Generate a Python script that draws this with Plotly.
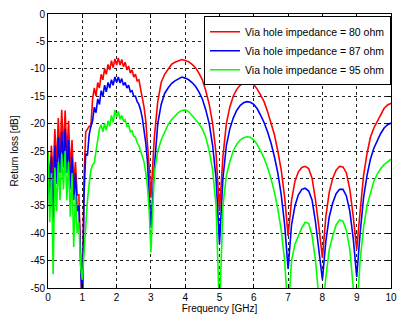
import plotly.graph_objects as go

# Frequency grid [GHz]
freq_a = [round(i * 0.05, 3) for i in range(21)]             # 0 .. 1.0
freq_b = [round(1.0 + i * 0.05, 3) for i in range(1, 41)]    # 1.05 .. 3.0
freq_c = [round(3.0 + i * 0.1, 3) for i in range(1, 71)]     # 3.1 .. 10.0
freq_ghz = freq_a + freq_b + freq_c

# Return loss [dB], 80 ohm
rl_80 = [
    -25, -31, -24, -30, -21, -28, -19, -26, -17.5, -25,
    -17.6, -26, -19.5, -29, -23, -31, -27, -33, -33, -42, -55,
    -30, -21.5, -21, -20.5, -20.5, -15.5, -13.5, -15, -12.5, -13.5,
    -11, -12, -10, -11, -9.2, -10.2, -8.5, -9.8, -8.2, -9.3,
    -8, -9.3, -8.3, -9.6, -8.8, -10.2, -9.5, -10.8, -10.2, -11.5,
    -11, -12.2, -12, -13.5, -15, -17, -19.5, -23, -28, -33.5,
    -22.5, -16, -12.5, -11, -10, -9.2, -8.8, -8.5, -8.3, -8.5,
    -8.7, -9.2, -9.8, -10.8, -12, -14, -16.5, -20, -25.5, -36,
    -26, -20, -17, -15, -13.8, -13, -12.6, -12.4, -12.5, -12.9,
    -13.7, -14.8, -16, -17.8, -19.8, -22, -25, -28.5, -33.5, -40.5,
    -34, -30.5, -28.8, -28, -27.8, -28.2, -30, -34, -39, -44.5,
    -37, -32.5, -30, -28.5, -27.8, -27.9, -29, -32, -37, -43,
    -36, -29.5, -25.5, -22.5, -20.8, -19.5, -18.2, -17.2, -16.6, -16.3,
]

# Return loss [dB], 87 ohm
rl_87 = [
    -27, -35, -26, -38, -24, -31, -22.5, -29, -21.5, -28,
    -21, -29, -23, -32, -26, -34, -29, -36, -35, -45, -55,
    -33, -25.5, -25.8, -22, -20.5, -19.5, -17, -18, -15.5, -16.5,
    -14, -15, -13, -14.2, -12.5, -13.5, -12, -13, -11.5, -12.5,
    -11.5, -12.6, -11.8, -13, -12.5, -13.5, -13, -14.2, -14, -15,
    -15, -16, -16.5, -17.5, -19, -21, -23.5, -27, -32, -39,
    -28, -20, -16.5, -14.5, -13.5, -12.7, -12.2, -11.8, -11.5, -11.7,
    -12, -12.5, -13.2, -14.2, -15.5, -17.5, -20, -24, -30, -42,
    -30, -24, -21, -19, -17.6, -16.7, -16.2, -16, -16.1, -16.5,
    -17.3, -18.5, -19.8, -21.5, -23.5, -26, -29, -33, -38.5, -46.5,
    -38.5, -35, -33, -32, -31.8, -32.3, -34, -38, -43, -48.5,
    -41.5, -37, -34.5, -32.8, -32, -32, -33.2, -36, -41, -48,
    -40, -33.5, -29.5, -26.5, -24.5, -23, -21.8, -20.8, -20.2, -19.9,
]

# Return loss [dB], 95 ohm
rl_95 = [
    -25, -38, -29, -47.5, -28, -36, -27, -34, -25.5, -32,
    -25, -34, -27, -37, -29, -42.5, -33, -40, -38, -46, -48.5,
    -44, -38, -34, -31, -28.5, -27.5, -27.2, -25, -22.5, -21,
    -20.2, -21.5, -20, -21.2, -19.5, -20.5, -18.5, -19.8, -17.5, -18.8,
    -17.8, -19.2, -18.5, -19.5, -19.3, -20.5, -20.3, -21.5, -21.3, -22.3,
    -22.5, -23.5, -24, -25, -25.8, -27, -29, -31.5, -36, -43.5,
    -29, -25, -23, -21.5, -20.2, -19.3, -18.7, -18, -17.6, -17.5,
    -17.8, -18.5, -19.2, -20, -21, -22.5, -25, -28.5, -35, -55,
    -35, -29.5, -27, -25, -23.8, -23, -22.6, -22.4, -22.5, -23,
    -23.8, -25, -26.3, -28, -30, -32.5, -35.5, -39.5, -45, -55,
    -45, -42, -40.5, -39, -38, -38.2, -40.5, -45, -52, -55,
    -48, -43, -40.5, -38.5, -37.6, -37.8, -39.5, -43, -50, -55,
    -45, -39, -35, -32.5, -30.5, -29.2, -28.2, -27.5, -27, -26.5,
]

series_names = ["Via hole impedance = 80 ohm",
                "Via hole impedance = 87 ohm",
                "Via hole impedance = 95 ohm"]
series_colors = ["#ff0000", "#0000ff", "#00ff00"]

x_tick_vals = [0, 1, 2, 3, 4, 5, 6, 7, 8, 9, 10]
x_tick_text = ["0", "1", "2", "3", "4", "5", "6", "7", "8", "9", "10"]
y_tick_vals = [0, -5, -10, -15, -20, -25, -30, -35, -40, -45, -50]
y_tick_text = ["0", "-5", "-10", "-15", "-20", "-25", "-30", "-35", "-40", "-45", "-50"]

fig = go.Figure()
for name, vals, col in zip(series_names, [rl_80, rl_87, rl_95], series_colors):
    fig.add_trace(go.Scatter(x=freq_ghz, y=vals, mode="lines", name=name,
                             line=dict(color=col, width=1.6)))

font = "Liberation Sans, Arial, sans-serif"
axis_common = dict(
    showline=True, linecolor="black", linewidth=1, mirror="allticks",
    ticks="inside", ticklen=4, tickcolor="black",
    showgrid=True, gridcolor="#222222", griddash="dot", gridwidth=1,
    zeroline=False, tickfont=dict(family=font, size=10, color="black"),
    ticklabeloverflow="allow",
)

fig.update_layout(
    width=398, height=320,
    margin=dict(l=48, r=7, t=14, b=32, autoexpand=False),
    paper_bgcolor="white", plot_bgcolor="white",
    font=dict(family=font, size=10, color="black"),
    xaxis=dict(range=[0, 10], tickvals=x_tick_vals, ticktext=x_tick_text,
               title=dict(text="Frequency [GHz]", standoff=2,
                          font=dict(family=font, size=10)),
               **axis_common),
    yaxis=dict(range=[-50, 0], tickvals=y_tick_vals, ticktext=y_tick_text,
               title=dict(text="Return loss [dB]", standoff=10,
                          font=dict(family=font, size=10)),
               **axis_common),
    legend=dict(x=1, y=0.992, xanchor="right", yanchor="top",
                bgcolor="white", bordercolor="black", borderwidth=1,
                font=dict(family=font, size=10.5), tracegroupgap=0,
                itemwidth=30),
    showlegend=True,
)

fig.write_html("out.html", config={"displayModeBar": False})

# remove the default page margin so the figure sits at the window's corner
with open("out.html", "r", encoding="utf-8") as fh:
    page = fh.read()
page = page.replace("<head>", "<head><style>html,body{margin:0;padding:0;overflow:hidden;}</style>", 1)
with open("out.html", "w", encoding="utf-8") as fh:
    fh.write(page)
